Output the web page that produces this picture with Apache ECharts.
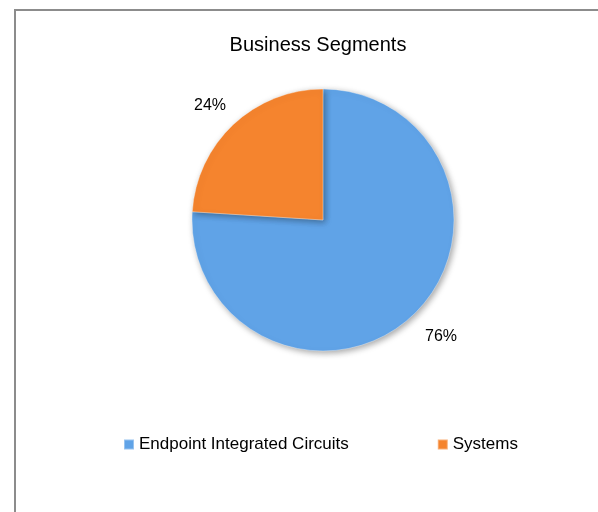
<!DOCTYPE html>
<html>
<head>
<meta charset="utf-8">
<script src="https://cdn.jsdelivr.net/npm/echarts@6/dist/echarts.min.js"></script>
<style>html,body{margin:0;padding:0;background:#fff}#c{width:598px;height:512px}</style>
</head>
<body>
<div id="c"></div>
<script>
var categories = ["Endpoint Integrated Circuits", "Systems"];
var values = [76, 24];
var colors = ["#60A3E7", "#F5842E"];

var chart = echarts.init(document.getElementById('c'), null, {renderer: 'canvas'});
var labelPos = [[441, 337], [210, 106]];
chart.setOption({
  animation: false,
  backgroundColor: '#fff',
  graphic: [{
    type: 'rect', shape: {x: 15, y: 10, width: 620, height: 540},
    style: {fill: 'none', stroke: '#8c8c8c', lineWidth: 2}, silent: true, z: -1
  }],
  title: {
    text: 'Business Segments', left: 313, top: 30, textAlign: 'center',
    textStyle: {fontFamily: 'Liberation Sans', fontSize: 20, fontWeight: 'normal', color: '#000'}
  },
  legend: {
    data: categories, top: 431, left: 118, itemWidth: 10, itemHeight: 10, itemGap: 88,
    icon: 'rect',
    textStyle: {fontFamily: 'Liberation Sans', fontSize: 17, color: '#000'}
  },
  series: [{
    type: 'pie', center: [323, 220], radius: 131, startAngle: 90, clockwise: true,
    data: categories.map(function (c, i) {
      return {name: c, value: values[i], itemStyle: {color: colors[i]}};
    }),
    itemStyle: {
      borderColor: 'rgba(255,255,255,0.35)', borderWidth: 1,
      shadowBlur: 6, shadowColor: 'rgba(0,0,0,0.35)', shadowOffsetX: 2, shadowOffsetY: 2
    },
    label: {
      show: true, position: 'outside', formatter: '{d}%',
      fontFamily: 'Liberation Sans', fontSize: 16, color: '#000'
    },
    labelLine: {show: false},
    labelLayout: function (p) {
      return {x: labelPos[p.dataIndex][0], y: labelPos[p.dataIndex][1], align: 'center', verticalAlign: 'middle'};
    }
  }]
});
</script>
</body>
</html>
